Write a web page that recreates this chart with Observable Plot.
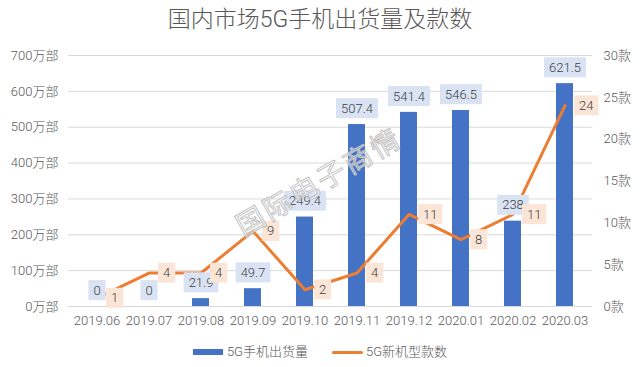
<!DOCTYPE html>
<html>
<head>
<meta charset="utf-8">
<script src="https://cdn.jsdelivr.net/npm/d3@7"></script>
<script src="https://cdn.jsdelivr.net/npm/@observablehq/plot@0.6"></script>
<style>
  html, body { margin: 0; padding: 0; background: #fff; }
  body { font-family: Roboto, "Noto Sans CJK SC", sans-serif; font-weight: 300; }
  #wrap { position: relative; width: 640px; height: 367px; overflow: hidden; background: #fff; }
  #title { position: absolute; top: 3px; left: 0; width: 640px; text-align: center; font-size: 23px; color: #595959; line-height: 34px; font-weight: 300; }
  #chart { position: absolute; top: 40px; left: 0; }
  #legend { position: absolute; top: 342px; left: 0; width: 640px; display: flex; justify-content: center; align-items: center; font-size: 13px; color: #595959; line-height: 20px; }
  .item { display: flex; align-items: center; margin: 0 12px; }
  .sw-bar { width: 30px; height: 6px; background: #4472c4; margin-right: 4px; }
  .sw-line { width: 31px; height: 3px; background: #ed7d31; margin-right: 3px; border-radius: 2px; }
  #wm { position: absolute; left: 318px; top: 180px; transform: translate(-50%, -50%) rotate(-30deg); font-size: 28px; letter-spacing: 3px; color: rgba(255,255,255,0.45); -webkit-text-stroke: 1px #c4c4c4; white-space: nowrap; pointer-events: none; font-weight: 400; }
</style>
</head>
<body>
<div id="wrap">
  <div id="title">国内市场5G手机出货量及款数</div>
  <div id="chart"></div>
  <div id="legend">
    <div class="item"><div class="sw-bar"></div><span>5G手机出货量</span></div>
    <div class="item"><div class="sw-line"></div><span>5G新机型款数</span></div>
  </div>
  <div id="wm">国际电子商情</div>
</div>
<script>
const months = ["2019.06","2019.07","2019.08","2019.09","2019.10","2019.11","2019.12","2020.01","2020.02","2020.03"];
const shipments = [0, 0, 21.9, 49.7, 249.4, 507.4, 541.4, 546.5, 238, 621.5];
const models = [1, 4, 4, 9, 2, 4, 11, 8, 11, 24];
const leftTicks = [0, 100, 200, 300, 400, 500, 600, 700];
const rightTicks = [0, 5, 10, 15, 20, 25, 30];
const leftMax = 700, rightMax = 30;
const k = leftMax / rightMax;

const data = months.map((m, i) => ({ m, s: shipments[i], n: models[i], ny: models[i] * k }));

const chart = Plot.plot({
  width: 640,
  height: 295,
  marginTop: 15,
  marginBottom: 29,
  marginLeft: 68,
  marginRight: 48,
  style: { fontFamily: 'Roboto, "Noto Sans CJK SC", sans-serif', fontWeight: 300, fontSize: "13px", color: "#595959", background: "#fff" },
  x: { domain: months, paddingInner: 0.68, paddingOuter: 0.34, axis: null },
  y: { domain: [0, leftMax], axis: null },
  marks: [
    Plot.gridY(leftTicks, { stroke: "#d9d9d9", strokeOpacity: 1 }),
    Plot.axisY(leftTicks, { anchor: "left", tickSize: 0, tickPadding: 10, tickFormat: d => d + "万部", fontSize: 13, label: null }),
    Plot.axisY(rightTicks.map(t => t * k), { anchor: "right", tickSize: 0, tickPadding: 11, tickFormat: d => Math.round(d / k) + "款", fontSize: 13, label: null }),
    Plot.axisX({ tickSize: 0, tickPadding: 9, fontSize: 13, label: null }),
    Plot.barY(data, { x: "m", y: "s", fill: "#4472c4" }),
    Plot.line(data, { x: "m", y: "ny", stroke: "#ed7d31", strokeWidth: 3, strokeLinejoin: "round", strokeLinecap: "round" }),
    Plot.text(data, { x: "m", y: "s", text: d => String(d.s), dy: -16, fill: "#404040", fontSize: 13 }),
    Plot.text(data, { x: "m", y: "ny", text: d => String(d.n), dx: 14, textAnchor: "start", fill: "#404040", fontSize: 13 })
  ]
});
document.getElementById("chart").appendChild(chart);

// label backgrounds, sized from the rendered label text
const textGroups = chart.querySelectorAll('g[aria-label="text"]');
const bgColors = ["#dae3f3", "#fbe5d6"];
textGroups.forEach((g, gi) => {
  g.querySelectorAll("text").forEach(t => {
    const b = t.getBBox();
    const r = document.createElementNS("http://www.w3.org/2000/svg", "rect");
    const cy = b.y + b.height / 2;
    r.setAttribute("x", b.x - 5);
    r.setAttribute("y", cy - 10);
    r.setAttribute("width", b.width + 10);
    r.setAttribute("height", 20);
    r.setAttribute("fill", bgColors[gi] || "#eee");
    const tr = t.getAttribute("transform");
    if (tr) r.setAttribute("transform", tr);
    t.parentNode.insertBefore(r, t);
  });
});
</script>
</body>
</html>
